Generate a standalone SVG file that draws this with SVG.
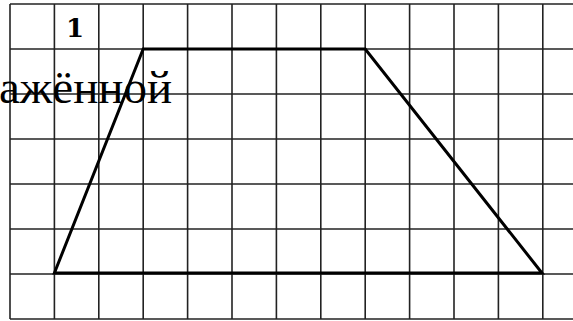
<svg xmlns="http://www.w3.org/2000/svg" width="573" height="321" viewBox="0 0 573 321">
<style>
.grid line{stroke:#222;stroke-width:1.6}
.shape{fill:none;stroke:#000;stroke-width:3;stroke-linejoin:miter}
.lbl{font-family:"DejaVu Serif",serif;font-weight:bold;font-size:26px;fill:#000}
.txt{font-family:"Liberation Serif","Times New Roman",serif;font-size:47px;fill:#000}
</style>
<rect width="573" height="321" fill="#fff"/>
<g id="grid" class="grid">
<line x1="10" y1="4" x2="573" y2="4"/>
<line x1="10" y1="49" x2="573" y2="49"/>
<line x1="10" y1="94" x2="573" y2="94"/>
<line x1="10" y1="139" x2="573" y2="139"/>
<line x1="10" y1="184" x2="573" y2="184"/>
<line x1="10" y1="229" x2="573" y2="229"/>
<line x1="10" y1="274" x2="573" y2="274"/>
<line x1="10" y1="319" x2="573" y2="319"/>
<line x1="10" y1="4" x2="10" y2="319"/>
<line x1="54.4" y1="4" x2="54.4" y2="319"/>
<line x1="98.8" y1="4" x2="98.8" y2="319"/>
<line x1="143.2" y1="4" x2="143.2" y2="319"/>
<line x1="187.6" y1="4" x2="187.6" y2="319"/>
<line x1="232" y1="4" x2="232" y2="319"/>
<line x1="276.4" y1="4" x2="276.4" y2="319"/>
<line x1="320.8" y1="4" x2="320.8" y2="319"/>
<line x1="365.2" y1="4" x2="365.2" y2="319"/>
<line x1="409.6" y1="4" x2="409.6" y2="319"/>
<line x1="454" y1="4" x2="454" y2="319"/>
<line x1="498.4" y1="4" x2="498.4" y2="319"/>
<line x1="542.8" y1="4" x2="542.8" y2="319"/>
</g>
<g id="unit-label">
<text class="lbl" x="75" y="37" text-anchor="middle">1</text>
</g>
<g id="trapezoid">
<polygon class="shape" points="143.2,49 365.2,49 542,273 54.4,273"/>
</g>
<g id="caption">
<text class="txt" x="-1" y="103">ажённой</text>
</g>
</svg>
